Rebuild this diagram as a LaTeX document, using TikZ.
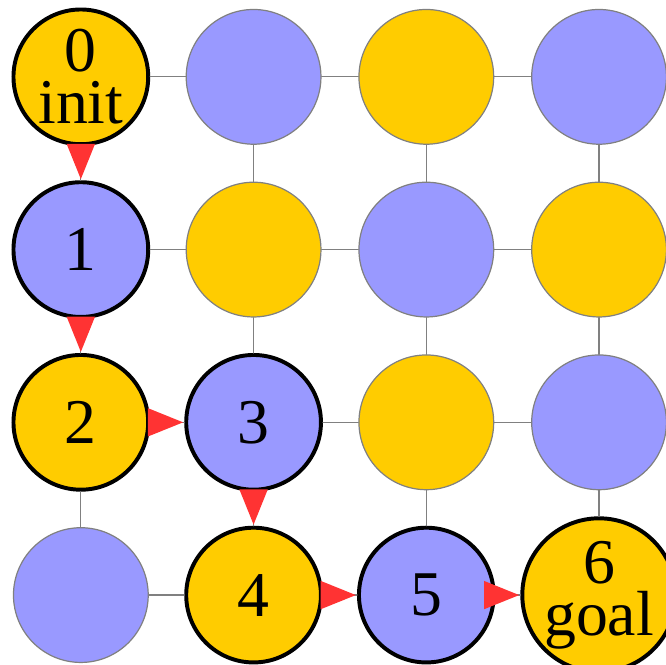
\documentclass[tikz,border=0pt]{standalone}
\usepackage{fontspec}
\setmainfont{Liberation Serif}
\usetikzlibrary{arrows.meta}
\definecolor{mauvang}{HTML}{FFCC00}
\definecolor{mauxanh}{HTML}{9999FF}
\definecolor{maudo}{HTML}{FF3333}
\begin{document}
\begin{tikzpicture}[line join=round, line cap=round, >={Triangle[length=0.42cm,width=0.3cm]}]
	\tikzset{o/.style={circle,minimum size=1.56cm,inner sep=0pt,draw=gray,line width=0.4pt,align=center,
			font=\fontsize{21}{17}\selectfont},
		ovang/.style={o,fill=mauvang},
		oxanh/.style={o,fill=mauxanh},
		buoc/.style={draw=black,line width=1.3pt},
		muiten/.style={->,maudo,line width=2.5pt,line cap=butt}}
	\useasboundingbox(-0.936,-0.80)rectangle(6.775,6.89);
	%%%Các ô không đi qua
	\foreach \i/\j/\m in{1/0/oxanh,2/0/ovang,3/0/oxanh,1/1/ovang,2/1/oxanh,3/1/ovang,2/2/ovang,3/2/oxanh,0/3/oxanh}
	\node[\m](n\i\j)at({2*\i},{6-2*\j}){};
	%%%Đường đi
	\foreach \i/\j/\m/\t in{0/0/ovang/{0\\init},0/1/oxanh/1,0/2/ovang/2,1/2/oxanh/3,1/3/ovang/4,2/3/oxanh/5,3/3/ovang/{6\\goal}}
	\node[\m,buoc](n\i\j)at({2*\i},{6-2*\j}){\t};
	%%%Lưới
	\foreach \j in{0,...,3}
	\foreach \i/\k in{0/1,1/2,2/3}{
		\draw[gray](n\i\j)--(n\k\j);
		\draw[gray](n\j\i)--(n\j\k);
	}
	\foreach \a/\b in{00/01,01/02,02/12,12/13,13/23,23/33}
	\draw[muiten](n\a)--(n\b);
\end{tikzpicture}
\end{document}
